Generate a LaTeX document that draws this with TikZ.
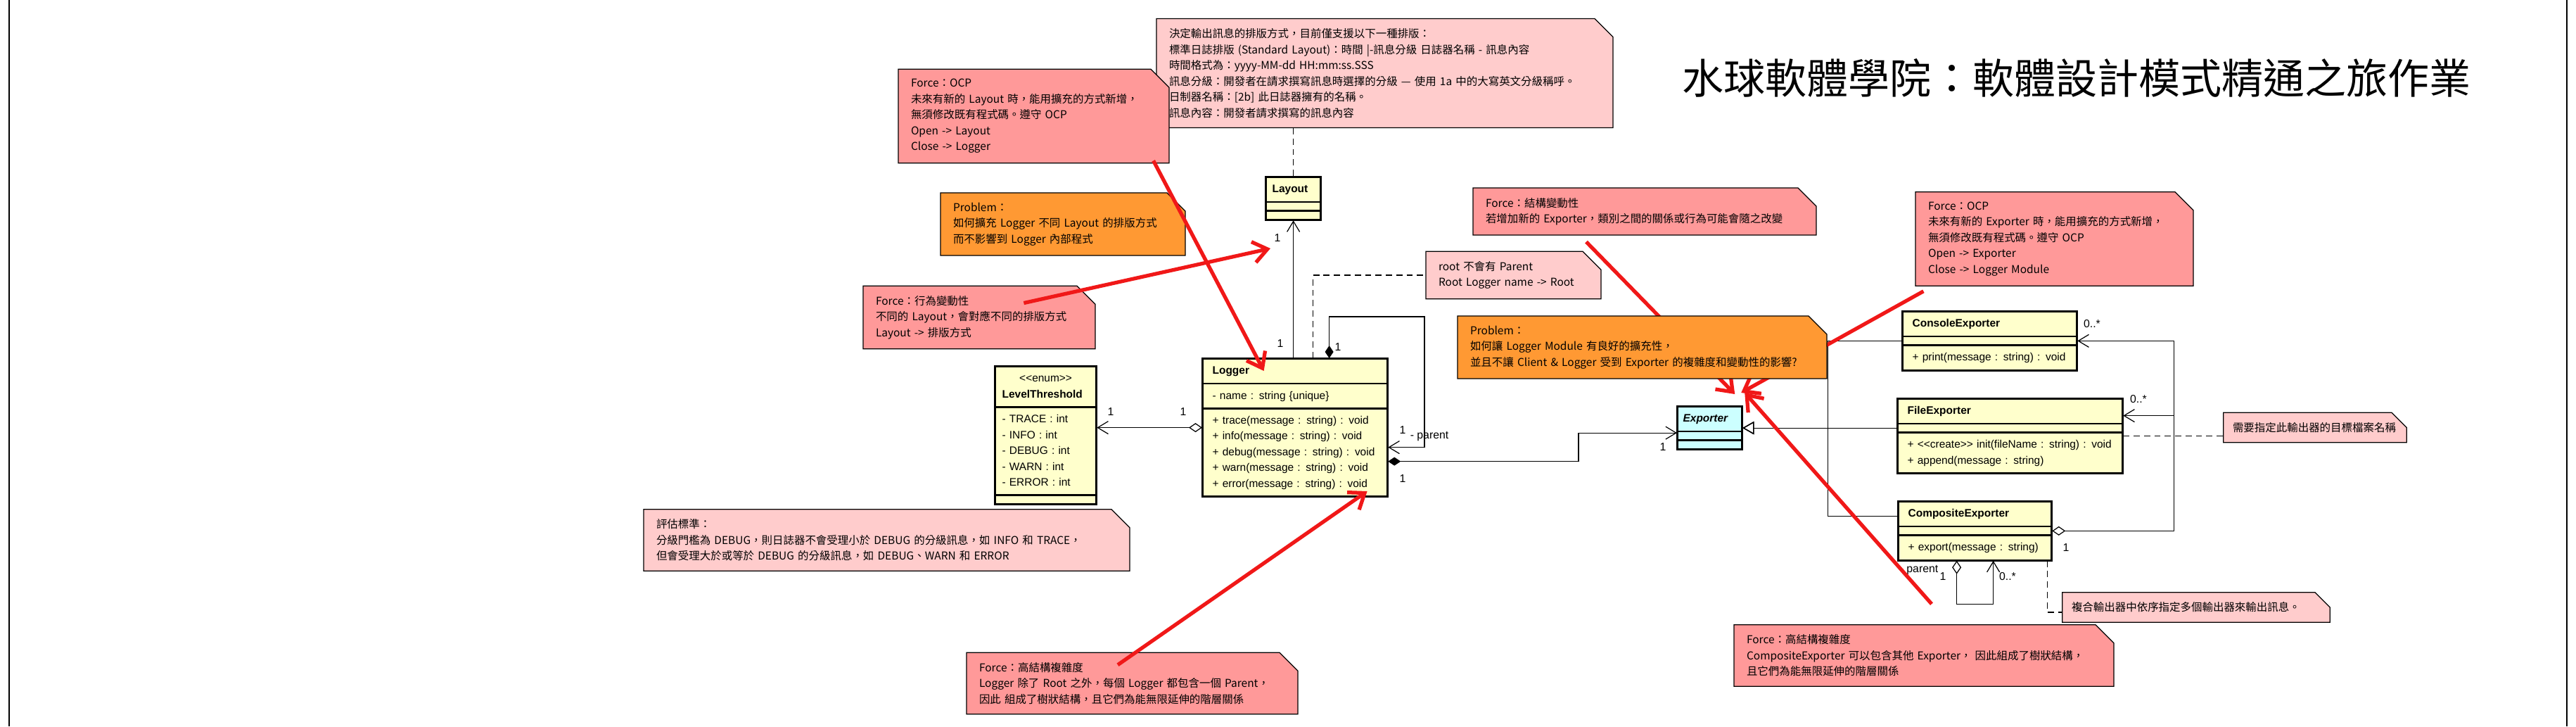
\documentclass[tikz,border=0pt]{standalone}
\usepackage{fontspec}
\usetikzlibrary{arrows.meta,shapes.misc,shapes.multipart}
\setmainfont{Liberation Sans}
\newfontfamily\cjk{Noto Sans CJK TC}
\definecolor{notepink}{RGB}{255,204,204}
\definecolor{forcered}{RGB}{255,153,153}
\definecolor{problemorange}{RGB}{255,153,51}
\definecolor{classyellow}{RGB}{255,255,204}
\definecolor{ifacecyan}{RGB}{204,255,255}
\definecolor{arrowred}{RGB}{240,24,24}
\newcommand\notefont{\cjk\fontsize{4.4pt}{6.4pt}\selectfont}
\newcommand\clsfont{\fontsize{4.4pt}{6.4pt}\selectfont}
\newcommand\lblfont{\fontsize{4.5pt}{5.4pt}\selectfont}
\tikzset{
    notebox/.style={chamfered rectangle, chamfered rectangle corners=north east,
        chamfered rectangle xsep=0.14cm, chamfered rectangle ysep=0.12cm,
        draw, inner xsep=0.04cm, inner ysep=0.02cm, font=\notefont, align=left},
    infonote/.style={notebox, fill=notepink},
    forcenote/.style={notebox, fill=forcered},
    problemnote/.style={notebox, fill=problemorange},
    cls/.style={rectangle split, rectangle split parts=3, draw, fill=classyellow,
        anchor=north west, inner xsep=0.14cm, inner ysep=1.65pt, font=\clsfont, align=left,
        rectangle split empty part height=0pt, rectangle split empty part depth=0pt,
        postaction={draw, line width=0.8pt}},
    lbl/.style={font=\lblfont, inner sep=0pt},
    notelink/.style={dash pattern=on 2.5pt off 1.7pt},
    assoc/.style={-{Straight Barb[length=0.15cm,width=0.18cm]}},
    aggr/.style={{Diamond[open,length=0.19cm,width=0.13cm]}-{Straight Barb[length=0.15cm,width=0.18cm]}},
    compose/.style={{Diamond[length=0.18cm,width=0.12cm]}-{Straight Barb[length=0.15cm,width=0.18cm]}},
    inherit/.style={-{Triangle[open,length=0.16cm,width=0.18cm]}},
    forcearrow/.style={arrowred, line width=1.5pt, -{Straight Barb[length=0.2cm,width=0.3cm]}}
}

\begin{document}
\begin{tikzpicture}[line width=0.35pt]
\useasboundingbox (0,0) rectangle (36.62,-10.32);
\draw[line width=0.6pt] (0.13,0) -- (0.13,-10.32);
\draw[line width=0.6pt] (36.49,0) -- (36.49,-10.32);

\node[font=\cjk\fontsize{16.8pt}{20pt}\selectfont, inner sep=0pt] at (29.52,-1.11) (title) {水球軟體學院：軟體設計模式精通之旅作業};

\node[infonote, text width=6.13cm, minimum height=1.48cm] at (19.685,-1.04) (layoutnote)
    {決定輸出訊息的排版方式，目前僅支援以下一種排版：\\
     標準日誌排版 (Standard Layout)：時間 |-訊息分級 日誌器名稱 - 訊息內容\\
     時間格式為：yyyy-MM-dd HH:mm:ss.SSS\\
     訊息分級：開發者在請求撰寫訊息時選擇的分級 — 使用 1a 中的大寫英文分級稱呼。\\
     日制器名稱：[2b] 此日誌器擁有的名稱。\\
     訊息內容：開發者請求撰寫的訊息內容};
\node[forcenote, text width=3.49cm, minimum height=1.24cm] at (14.695,-1.65) (ocpa)
    {Force：OCP\\
     未來有新的 Layout 時，能用擴充的方式新增，\\
     無須修改既有程式碼。遵守 OCP\\
     Open -> Layout\\
     Close -> Logger};
\node[problemnote, text width=3.12cm, minimum height=0.79cm] at (15.11,-3.185) (probla)
    {Problem：\\
     如何擴充 Logger 不同 Layout 的排版方式\\
     而不影響到 Logger 內部程式};
\node[forcenote, text width=2.94cm, minimum height=0.78cm] at (13.92,-4.51) (behav)
    {Force：行為變動性\\
     不同的 Layout，會對應不同的排版方式\\
     Layout -> 排版方式};
\node[infonote, text width=2.13cm, minimum height=0.56cm] at (21.515,-3.91) (rootnote)
    {root 不會有 Parent\\
     Root Logger name -> Root};
\node[infonote, text width=6.55cm, minimum height=0.79cm] at (12.605,-7.675) (evalnote)
    {評估標準：\\
     分級門檻為 DEBUG，則日誌器不會受理小於 DEBUG 的分級訊息，如 INFO 和 TRACE，\\
     但會受理大於或等於 DEBUG 的分級訊息，如 DEBUG、WARN 和 ERROR};
\node[forcenote, text width=4.35cm, minimum height=0.78cm] at (16.095,-9.71) (complexa)
    {Force：高結構複雜度\\
     Logger 除了 Root 之外，每個 Logger 都包含一個 Parent，\\
     因此 組成了樹狀結構，且它們為能無限延伸的階層關係};
\node[forcenote, text width=4.52cm, minimum height=0.55cm] at (23.38,-3.005) (structnote)
    {Force：結構變動性\\
     若增加新的 Exporter，類別之間的關係或行為可能會隨之改變};
\node[forcenote, text width=3.59cm, minimum height=1.27cm] at (29.205,-3.395) (ocpb)
    {Force：OCP\\
     未來有新的 Exporter 時，能用擴充的方式新增，\\
     無須修改既有程式碼。遵守 OCP\\
     Open -> Exporter\\
     Close -> Logger Module};
\node[infonote, text width=2.34cm, minimum height=0.33cm] at (32.91,-6.075) (filenote)
    {需要指定此輸出器的目標檔案名稱};
\node[infonote, text width=3.54cm, minimum height=0.32cm] at (31.22,-8.63) (compnote)
    {複合輸出器中依序指定多個輸出器來輸出訊息。};
\node[forcenote, text width=5.04cm, minimum height=0.79cm] at (27.35,-9.315) (complexb)
    {Force：高結構複雜度\\
     CompositeExporter 可以包含其他 Exporter， 因此組成了樹狀結構，\\
     且它們為能無限延伸的階層關係};

\node[cls, text width=0.60cm, inner xsep=0.09cm] at (17.99,-2.51) (layout)
    {\centering\strut\textbf{Layout}\strut\nodepart{two}\nodepart{three}};
\node[cls, text width=2.35cm] at (17.09,-5.09) (logger)
    {\centering\strut\textbf{Logger}\strut
     \nodepart{two}\strut- name : string \{unique\}\strut
     \nodepart{three}\strut+ trace(message : string) : void\\
     + info(message : string) : void\\
     + debug(message : string) : void\\
     + warn(message : string) : void\\
     + error(message : string) : void\strut};
\node[cls, text width=1.24cm, inner xsep=0.10cm] at (14.14,-5.20) (level)
    {\centering\strut <{}<enum>{}>\\\textbf{LevelThreshold}\strut
     \nodepart{two}\strut- TRACE : int\\
     - INFO : int\\
     - DEBUG : int\\
     - WARN : int\\
     - ERROR : int\strut
     \nodepart{three}};
\node[cls, fill=ifacecyan, text width=0.76cm, inner xsep=0.08cm] at (23.84,-5.77) (exporter)
    {\centering\strut\textbf{\textit{Exporter}}\strut\nodepart{two}\nodepart{three}};
\node[cls, text width=2.20cm] at (27.04,-4.42) (console)
    {\centering\strut\textbf{ConsoleExporter}\strut
     \nodepart{two}
     \nodepart{three}\strut+ print(message : string) : void\strut};
\node[cls, text width=2.92cm] at (26.97,-5.66) (file)
    {\centering\strut\textbf{FileExporter}\strut
     \nodepart{two}
     \nodepart{three}\strut+ <{}<create>{}> init(fileName : string) : void\\
     + append(message : string)\strut};
\node[cls, text width=1.90cm] at (26.98,-7.12) (composite)
    {\centering\strut\textbf{CompositeExporter}\strut
     \nodepart{two}
     \nodepart{three}\strut+ export(message : string)\strut};

\draw[notelink] (layout.north |- layoutnote.south) -- (layout.north);
\draw[assoc] (layout.south |- logger.north) -- (layout.south);
\draw[aggr] (logger.west) -- (logger.west -| level.east);
\draw[compose] ([xshift=0.485cm]logger.north) |- (20.25,-4.50) |- ([yshift=-0.28cm]logger.east);
\draw[notelink] ([xshift=0.255cm]logger.north) |- (rootnote.west);
\draw[compose] ([yshift=-0.48cm]logger.east) -| ([xshift=-1.40cm,yshift=-0.07cm]exporter.west) -- ([yshift=-0.07cm]exporter.west);

\draw[inherit] (exporter.east -| file.west) -- (exporter.east);
\draw[inherit] (console.west) -| ([xshift=1.21cm]exporter.east) -- (exporter.east);
\draw[inherit] ([yshift=0.21cm]composite.west) -| ([xshift=1.21cm]exporter.east) -- (exporter.east);
\draw[aggr] (composite.east) -| ([xshift=1.37cm]console.east) -- (console.east);
\draw[assoc] ([xshift=0.72cm,yshift=0.29cm]file.east) -- ([yshift=0.29cm]file.east);
\draw[aggr] ([xshift=-0.26cm]composite.south) -- ++(0,-0.62) -| ([xshift=0.26cm]composite.south);
\draw[notelink] (file.east) -- (file.east -| filenote.west);
\draw[notelink] ([xshift=-0.07cm]composite.south east) |- ([yshift=-0.07cm]compnote.west);

\node[lbl] at (18.16,-3.38) (m1) {1};
\node[lbl] at (18.20,-4.88) (m2) {1};
\node[lbl] at (15.79,-5.85) (m3) {1};
\node[lbl] at (16.82,-5.85) (m4) {1};
\node[lbl] at (19.02,-4.93) (m5) {1};
\node[lbl] at (19.94,-6.11) (m6) {1};
\node[lbl] at (20.32,-6.20) (m7) {- parent};
\node[lbl] at (19.94,-6.80) (m8) {1};
\node[lbl] at (23.64,-6.35) (m9) {1};
\node[lbl] at (29.74,-4.60) (m10) {0..*};
\node[lbl] at (30.40,-5.67) (m11) {0..*};
\node[lbl] at (29.37,-7.78) (m12) {1};
\node[lbl] at (27.28,-8.10) (m13) {- parent};
\node[lbl] at (27.62,-8.19) (m14) {1};
\node[lbl] at (28.54,-8.19) (m15) {0..*};

\draw[forcearrow] ([shift={(-0.23,0.04)}]ocpa.south east) -- ([shift={(-0.445,-0.18)}]logger.north);
\draw[forcearrow] ([shift={(2.29,-0.25)}]behav.north west) -- ([shift={(0.07,-1.02)}]layout.north west);
\draw[forcearrow] ([shift={(-0.205,-0.18)}]complexa.north) -- ([shift={(1.025,-1.89)}]logger.north);
\draw[forcearrow] ([shift={(-0.83,-0.09)}]structnote.south) -- ([shift={(-0.11,0.17)}]exporter.north east);
\draw[forcearrow] ([shift={(0.12,-0.07)}]ocpb.south west) -- ([shift={(-0.02,0.19)}]exporter.north east);
\draw[forcearrow] ([shift={(0.11,0.29)}]complexb.north) -- ([shift={(0.03,0.19)}]exporter.north east);

\node[problemnote, text width=4.89cm, minimum height=0.79cm] at (23.345,-4.935) (problb)
    {Problem：\\
     如何讓 Logger Module 有良好的擴充性，\\
     並且不讓 Client \& Logger 受到 Exporter 的複雜度和變動性的影響?};
\end{tikzpicture}
\end{document}
